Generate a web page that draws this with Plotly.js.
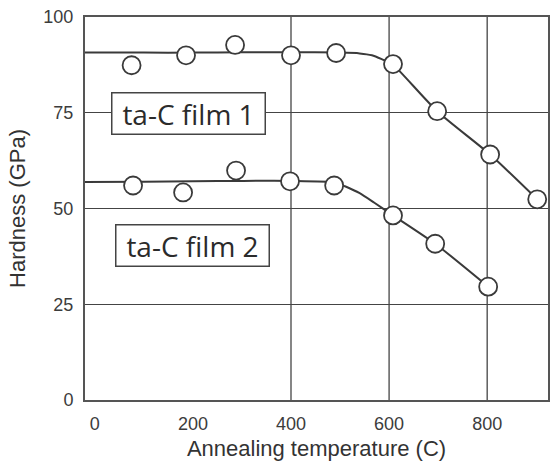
<!DOCTYPE html>
<html>
<head>
<meta charset="utf-8">
<script src="https://cdn.plot.ly/plotly-3.0.1.min.js"></script>
<style>html,body{margin:0;padding:0;background:#fff;}#chart{width:550px;height:464px;}</style>
</head>
<body>
<div id="chart"></div>
<script>
// Measured points (annealing temperature in C, hardness in GPa)
const film1X = [75, 186, 286, 400, 492, 608, 698, 806, 902];
const film1Y = [87.4, 90.0, 92.7, 90.0, 90.6, 87.7, 75.4, 64.1, 52.4];
const film2X = [78, 180, 288, 398, 488, 608, 694, 802];
const film2Y = [56.0, 54.2, 59.9, 57.1, 56.0, 48.2, 40.8, 29.6];

// Hand-drawn trend curves
const curve1X = [-20, 100, 200, 300, 400, 500, 540, 565, 585, 600, 608, 698, 806, 902];
const curve1Y = [90.7, 90.7, 90.7, 90.8, 90.8, 90.7, 90.5, 90.0, 89.0, 88.1, 87.6, 75.4, 64.1, 52.4];
const curve2X = [-20, 100, 200, 300, 400, 490, 510, 540, 570, 608, 694, 802];
const curve2Y = [56.9, 57.0, 57.1, 57.2, 57.2, 56.8, 55.8, 54.0, 51.5, 48.2, 40.8, 29.6];

const xTicks = [0, 200, 400, 600, 800];
const yTicks = [0, 25, 50, 75, 100];
const gridX = [400, 600, 800];

const labels = ["ta-C film 1", "ta-C film 2"];
const labelX = [190, 200];
const labelY = [74.7, 40.4];

const lineColor = '#3a3a3a';

const traces = [
  {x: curve1X, y: curve1Y, mode: 'lines', line: {color: lineColor, width: 2, shape: 'spline', smoothing: 0.6}, hoverinfo: 'skip'},
  {x: curve2X, y: curve2Y, mode: 'lines', line: {color: lineColor, width: 2, shape: 'spline', smoothing: 0.6}, hoverinfo: 'skip'},
  {x: film1X, y: film1Y, mode: 'markers', marker: {symbol: 'circle', size: 18, color: '#ffffff', line: {color: lineColor, width: 1.8}}},
  {x: film2X, y: film2Y, mode: 'markers', marker: {symbol: 'circle', size: 18, color: '#ffffff', line: {color: lineColor, width: 1.8}}}
];

const shapes = gridX.map(v => ({
  type: 'line', xref: 'x', yref: 'paper', x0: v, x1: v, y0: 0, y1: 1,
  line: {color: '#444', width: 1.3}, layer: 'below'
}));

const annotations = labels.map((t, i) => ({
  text: t, x: labelX[i], y: labelY[i], xref: 'x', yref: 'y', showarrow: false,
  font: {family: 'Open Sans', size: 28, color: '#2b2b2b'},
  bgcolor: '#ffffff', bordercolor: '#444', borderwidth: 1.5, borderpad: 5,
  width: 142, height: 30
}));

const tickFont = {family: 'Liberation Sans', size: 18, color: '#3c3c3c'};
const titleFont = {family: 'Liberation Sans', size: 22, color: '#333'};

const layout = {
  width: 550, height: 464,
  margin: {l: 85, r: 2, t: 17, b: 64},
  paper_bgcolor: '#fff', plot_bgcolor: '#fff',
  showlegend: false,
  font: {family: 'Liberation Sans'},
  xaxis: {
    range: [-20, 924], tickvals: xTicks, ticktext: xTicks.map(String),
    showgrid: false, zeroline: false,
    showline: true, mirror: true, linecolor: '#555', linewidth: 2,
    ticks: 'outside', ticklen: 6, tickcolor: 'rgba(0,0,0,0)',
    tickfont: tickFont,
    title: {text: 'Annealing temperature (C)', font: titleFont, standoff: 8}
  },
  yaxis: {
    range: [0, 100], tickvals: yTicks, ticktext: yTicks.map(String),
    showgrid: true, gridcolor: '#444', gridwidth: 1.3, zeroline: false,
    showline: true, mirror: true, linecolor: '#555', linewidth: 2,
    ticks: 'outside', ticklen: 6, tickcolor: 'rgba(0,0,0,0)',
    tickfont: tickFont,
    title: {text: 'Hardness (GPa)', font: titleFont, standoff: 12}
  },
  shapes: shapes,
  annotations: annotations
};

Plotly.newPlot('chart', traces, layout, {displayModeBar: false, staticPlot: true});
</script>
</body>
</html>
